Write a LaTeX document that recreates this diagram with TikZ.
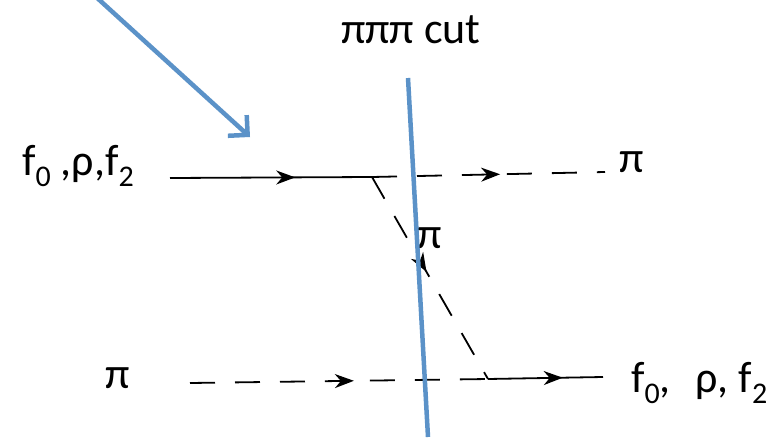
\documentclass[tikz,border=0pt]{standalone}
\usepackage{fontspec}
\setmainfont{Carlito}
\usetikzlibrary{arrows.meta,decorations.markings}
\definecolor{cutblue}{RGB}{91,146,200}
\newcommand{\lowsub}[1]{\raisebox{-0.55ex}{\fontsize{30}{30}\selectfont #1}}
\tikzset{
  prop/.style={line width=1.8pt, postaction={decorate}, decoration={markings, mark=at position #1 with {\arrow{Stealth[length=19pt,width=14pt,inset=6pt]}}}},
  prop/.default=0.55,
  pion/.style={prop=#1, dash pattern=on 25pt off 20pt},
  pion/.default=0.55,
  lab/.style={font=\fontsize{44}{50}\selectfont, inner sep=0pt},
  cut/.style={draw=cutblue, line width=4.5pt}
}
\begin{document}
\begin{tikzpicture}[x=1pt,y=-1pt]
\useasboundingbox (0,0) rectangle (784,444);
% vertices
\coordinate (inA) at (170,178);
\coordinate (v1) at (372,177);
\coordinate (outA) at (605,172);
\coordinate (inB) at (190,383);
\coordinate (v2) at (488,379);
\coordinate (outB) at (603,377);
\coordinate (cutT) at (408,78);
\coordinate (cutB) at (428,437);
\coordinate (arrS) at (95,-4);
\coordinate (arrE) at (250,137);
% labels
\node[lab] (tcut) at (411,30) {πππ cut};
\node[lab, anchor=base west] (lA) at (22,175) {f\lowsub{0} ,ρ,f\lowsub{2}};
\node[lab, anchor=base] (pA) at (632,172) {π};
\node[lab, anchor=base] (pM) at (430,248) {π};
\node[lab, anchor=base] (pB) at (118,388) {π};
\node[lab, anchor=base west] (lB) at (631,392) {f\lowsub{0},\,\, ρ, f\lowsub{2}};
% propagators
\draw[prop=0.62] (inA) -- (v1);
\draw[pion=0.55] (v1) -- (outA);
\draw[pion=0.47] (v1) -- (v2);
\draw[pion=0.55] (inB) -- (v2);
\draw[prop=0.65] (v2) -- (outB);
% cut and pointer
\draw[cut] (cutT) -- (cutB);
\draw[cut, -{Straight Barb[length=14pt,width=28pt,line width=4.5pt]}] (arrS) -- (arrE);
\end{tikzpicture}
\end{document}
